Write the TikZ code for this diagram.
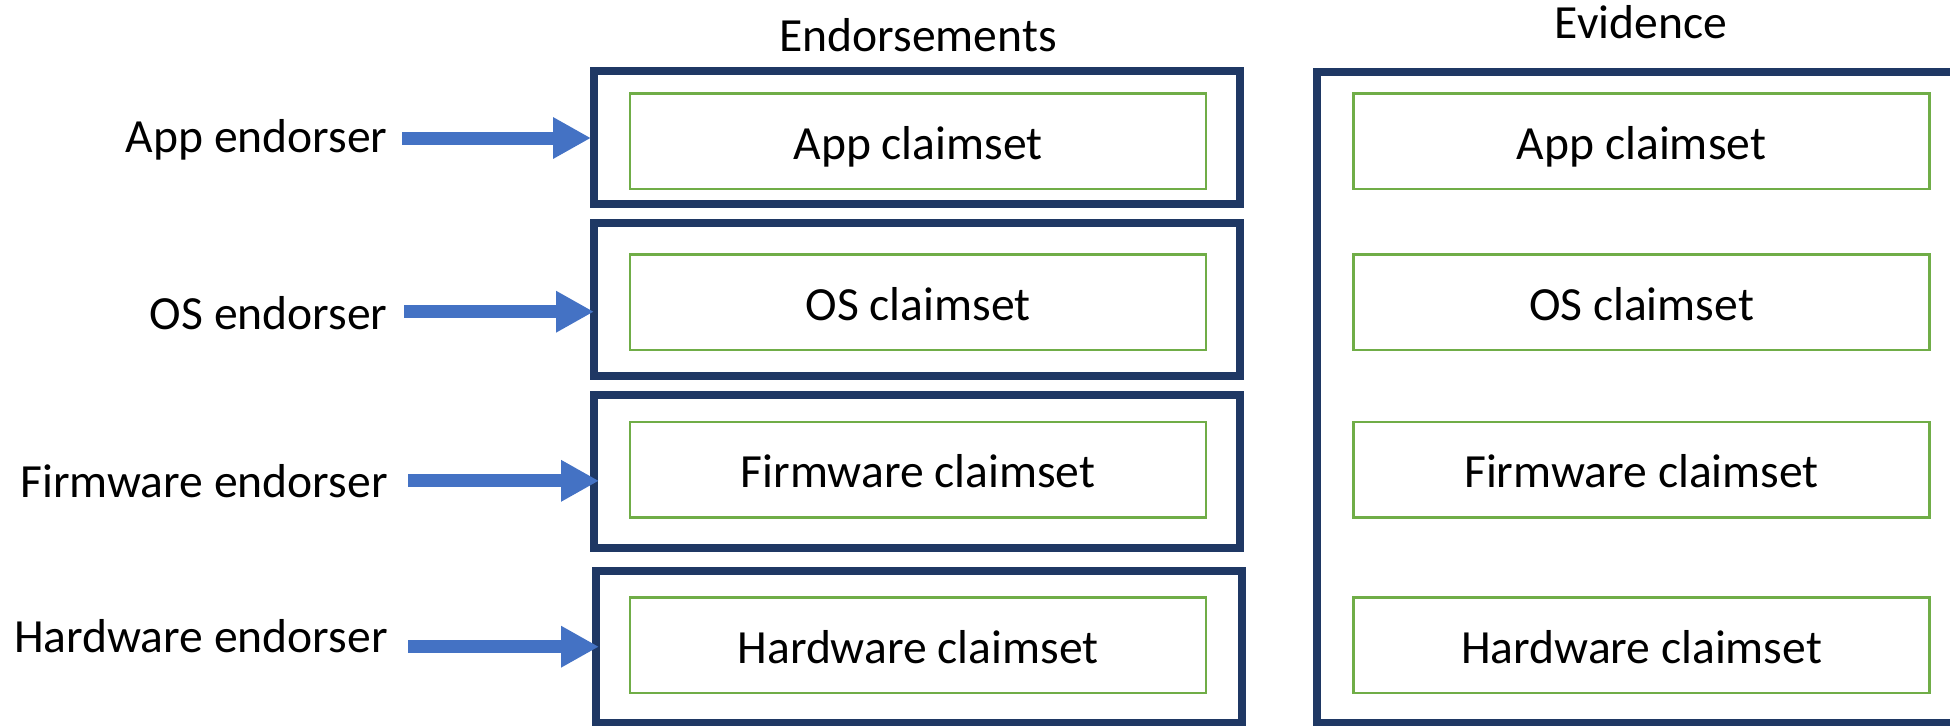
\documentclass[tikz,border=0pt]{standalone}
\usepackage{fontspec}
\setmainfont{Carlito}
\usetikzlibrary{arrows.meta}
\definecolor{navy}{HTML}{1F3864}
\definecolor{leaf}{HTML}{70AD47}
\definecolor{office}{HTML}{4472C4}

\begin{document}
\begin{tikzpicture}[x=.5pt, y=-.5pt, font=\fontsize{23.8pt}{28pt}\selectfont,
		slab/.style={draw=navy, line width=4pt, inner sep=0pt, minimum width=323pt},
		claim/.style={draw=leaf, line width=1.25pt, inner sep=0pt, minimum width=288pt, minimum height=47.75pt, text height=20pt, text depth=2pt},
		push/.style={office, line width=6.5pt, -{Triangle[width=19.5pt, length=19pt]}}]
				\useasboundingbox (0,0) rectangle (1950,725);
				\clip (0,0) rectangle (1950,725);
				\node[anchor=base] (endt) at (918,51.7) {Endorsements};
				\node[anchor=base] (evt) at (1641,38) {Evidence};
				\node[slab, minimum height=66.5pt] (e1) at (917,137.5) {};
				\node[slab, minimum height=76.5pt] (e2) at (917,299.5) {};
				\node[slab, minimum height=76.5pt] (e3) at (917,471.5) {};
				\node[slab, minimum height=76pt] (e4) at (919,647) {};
				% evidence frame runs off the right edge
				\draw[navy, line width=4pt] (2000,72) -- (1317,72) -- (1317,723) -- (2000,723);
				\foreach \i/\y/\kind in {1/141/App, 2/302/OS, 3/469.5/Firmware, 4/645/Hardware} {
					\node[claim] (c\i) at (918,\y) {\kind{} claimset};
					\node[claim] (d\i) at (1641.5,\y) {\kind{} claimset};
				}
				\foreach \i/\b/\kind/\sx/\ay/\t in {1/152/App/402/138/1, 2/329/OS/404/311.7/4, 3/497.3/Firmware/408/480.8/9, 4/652.7/Hardware/408/646.7/7} {
					\node[anchor=base east, inner sep=0pt] (l\i) at (388,\b) {\kind{} endorser};
					\coordinate (s\i) at (\sx,\ay);
					\draw[push, shorten >=-\t*.5pt] (s\i) -- (s\i -| e\i.west);
				}
			\end{tikzpicture}
\end{document}
